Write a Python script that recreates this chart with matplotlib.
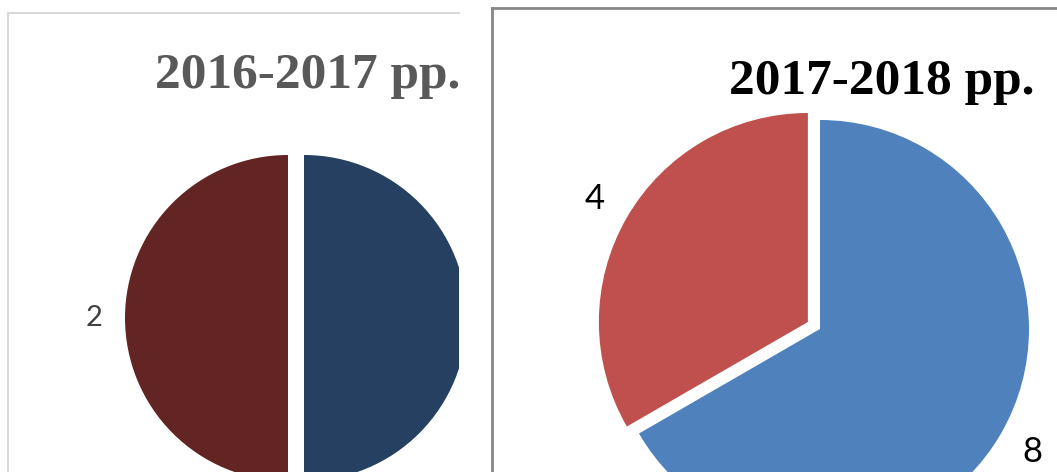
import numpy as np
import matplotlib.pyplot as plt

# data
left_title = '2016-2017 pp.'
left_values = [2, 2]
left_colors = ['#254061', '#632523']

right_title = '2017-2018 pp.'
right_values = [8, 4]
right_colors = ['#4F81BD', '#C0504D']

W, H = 1057, 472
fig = plt.figure(figsize=(W / 100, H / 100), dpi=100)


def make_panel(x0, top, x1):
    # axes whose data units are figure pixels (y measured upward)
    return fig.add_axes([x0 / W, 0, (x1 - x0) / W, (H - top) / H])


def finish_panel(ax, x0, top, x1, edge_color, edge_width):
    ax.set_xlim(x0, x1)
    ax.set_ylim(0, H - top)
    ax.set_aspect('auto')
    ax.set_frame_on(True)
    ax.set_xticks([])
    ax.set_yticks([])
    for s in ['right', 'bottom']:
        ax.spines[s].set_visible(False)
    for s in ['top', 'left']:
        ax.spines[s].set_visible(True)
        ax.spines[s].set_color(edge_color)
        ax.spines[s].set_linewidth(edge_width)


def add_labels(ax, wedges, values, dist, size, color):
    for w, v in zip(wedges, values):
        mid = np.deg2rad((w.theta1 + w.theta2) / 2)
        cx, cy = w.center
        ax.text(cx + dist * w.r * np.cos(mid), cy + dist * w.r * np.sin(mid), str(v),
                ha='center', va='center', fontsize=size, color=color,
                family='Lato', clip_on=True)


# left panel (clipped on the right)
axl = make_panel(8, 13, 459)
wl, _ = axl.pie(left_values, colors=left_colors, startangle=90, counterclock=False,
                radius=163, center=(296, H - 318), explode=[8, 8],
                wedgeprops=dict(linewidth=0))
for w in wl:
    w.set_clip_on(True)
finish_panel(axl, 8, 13, 459, '#d9d9d9', 1.5)
add_labels(axl, wl, left_values, 1.19, 21, '#404040')
axl.text(308, H - 88, left_title, ha='center', va='baseline', fontsize=37,
         fontweight='bold', family='Liberation Serif', color='#595959')

# right panel
axr = make_panel(492, 8, W)
wr, _ = axr.pie(right_values, colors=right_colors, startangle=90, counterclock=False,
                radius=209, center=(820, H - 329), explode=[0, 14],
                wedgeprops=dict(linewidth=0))
for w in wr:
    w.set_clip_on(True)
finish_panel(axr, 492, 8, W, '#878787', 2)
add_labels(axr, wr, right_values, 1.175, 25, 'black')
axr.text(882, H - 94, right_title, ha='center', va='baseline', fontsize=37,
         fontweight='bold', family='Liberation Serif', color='black')

fig.savefig('out.png', dpi=100)
